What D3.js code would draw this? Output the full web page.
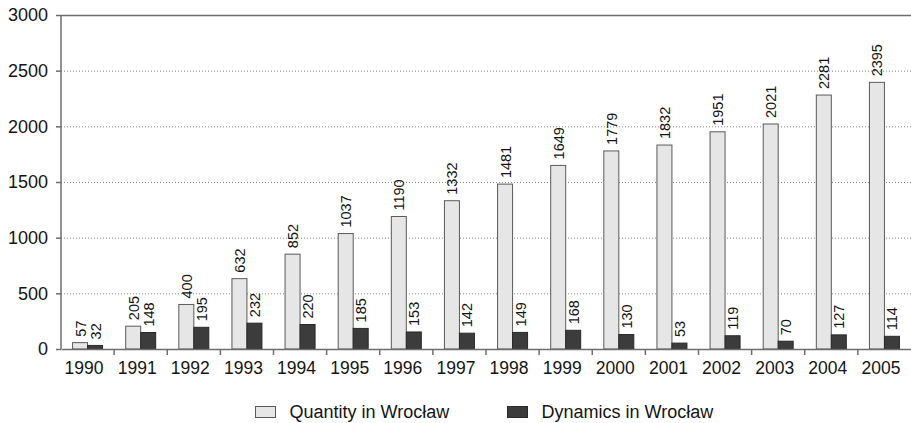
<!DOCTYPE html>
<html><head><meta charset="utf-8">
<script src="https://cdn.jsdelivr.net/npm/d3@7/dist/d3.min.js"></script>
<style>body{margin:0;background:#fff}svg{display:block;font-family:"Liberation Sans",Arial,sans-serif}</style>
</head><body><svg id="c" width="911" height="423"></svg>
<script>
const years = ["1990","1991","1992","1993","1994","1995","1996","1997","1998","1999","2000","2001","2002","2003","2004","2005"];
const quantity = [57,205,400,632,852,1037,1190,1332,1481,1649,1779,1832,1951,2021,2281,2395];
const dynamics = [32,148,195,232,220,185,153,142,149,168,130,53,119,70,127,114];
const yTicks = [0,500,1000,1500,2000,2500,3000];
const seriesNames = ["Quantity in Wrocław","Dynamics in Wrocław"];

const svg = d3.select("#c");
const L = 61, R = 911, T = 15, B = 349;
const x = d3.scaleBand().domain(years).range([L, R]);
const y = d3.scaleLinear().domain([0,3000]).range([B, T]);
const bw = 15;
const colors = ["#e6e6e6","#3c3c3c"];
const strokes = ["#5a5a5a","#2a2a2a"];
const axisCol = "#6e6e6e";
const txtCol = "#141414";

// gridlines
svg.append("g").selectAll("line").data(yTicks.filter(d => d > 0 && d < 3000)).join("line")
  .attr("x1", L).attr("x2", R).attr("y1", d => y(d)+0.5).attr("y2", d => y(d)+0.5)
  .attr("stroke", "#888").attr("stroke-width", 1).attr("stroke-dasharray", "1,2");
// top line
svg.append("line").attr("x1", L).attr("x2", R).attr("y1", y(3000)+0.5).attr("y2", y(3000)+0.5)
  .attr("stroke", axisCol).attr("stroke-width", 1.5);

// bars
const series = [quantity, dynamics];
series.forEach((vals, si) => {
  const g = svg.append("g");
  g.selectAll("rect").data(years).join("rect")
    .attr("x", (d) => x(d) + x.bandwidth()/2 - bw + si*bw)
    .attr("y", (d,i) => y(vals[i]))
    .attr("width", bw)
    .attr("height", (d,i) => B - y(vals[i]))
    .attr("fill", colors[si]).attr("stroke", strokes[si]).attr("stroke-width", 1);
  g.selectAll("text").data(years).join("text")
    .attr("transform", (d,i) => {
      const cx = x(d) + x.bandwidth()/2 - bw/2 + si*bw;
      return `translate(${cx+5.5},${y(vals[i]) - 6}) rotate(-90)`;
    })
    .attr("font-size", 14.5).attr("fill", txtCol)
    .text((d,i) => vals[i]);
});

// y axis
const ya = svg.append("g").attr("transform", `translate(${L},0)`)
  .call(d3.axisLeft(y).tickValues(yTicks).tickSize(5).tickPadding(8).tickFormat(d3.format("d")));
ya.select(".domain").attr("stroke", axisCol).attr("stroke-width", 1.5).attr("d", `M-0,${B}V${T}`);
ya.selectAll(".tick line").attr("stroke", axisCol).attr("stroke-width", 1.5);
ya.selectAll("text").attr("font-size", 18).attr("fill", txtCol).attr("font-family", "Liberation Sans, Arial, sans-serif");

// x axis
const xa = svg.append("g").attr("transform", `translate(0,${B})`)
  .call(d3.axisBottom(x).tickSize(0).tickPadding(13));
xa.select(".domain").attr("stroke", axisCol).attr("stroke-width", 1.5);
xa.selectAll("text").attr("font-size", 17.5).attr("dx", -3.5).attr("fill", txtCol).attr("font-family", "Liberation Sans, Arial, sans-serif");
svg.append("g").selectAll("line").data(years.slice(1)).join("line")
  .attr("x1", d => x(d)).attr("x2", d => x(d)).attr("y1", B).attr("y2", B+6)
  .attr("stroke", axisCol).attr("stroke-width", 1.5);

// legend
const lx = [255.5, 507.5];
seriesNames.forEach((n, i) => {
  svg.append("rect").attr("x", lx[i]).attr("y", 406.5).attr("width", 20).attr("height", 11)
    .attr("fill", colors[i]).attr("stroke", strokes[i]).attr("stroke-width", 1);
  svg.append("text").attr("x", lx[i] + 34).attr("y", 418).attr("font-size", 18)
    .attr("fill", txtCol).text(n);
});
</script></body></html>
